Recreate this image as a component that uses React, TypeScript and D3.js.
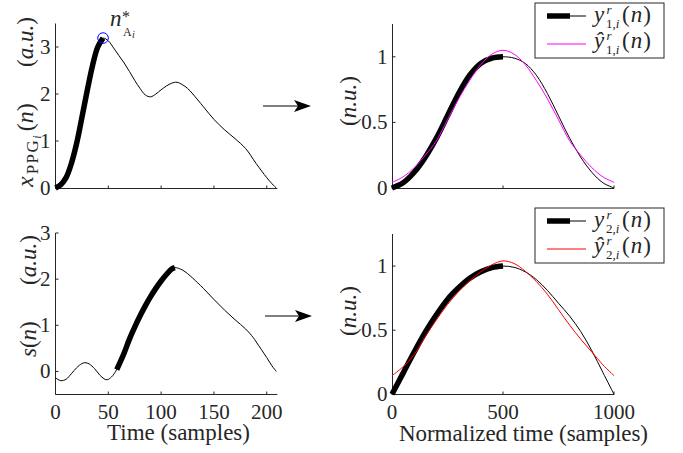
import React from "react";
import * as d3 from "d3";

// ---- values

// top left: PPG pulse (samples, a.u.)
const ppgN = [0, 5, 10, 15, 20, 25, 30, 35, 40, 45, 50, 55, 60, 65, 70, 75, 80, 85, 90, 95, 100, 105, 110, 115, 120, 125, 130, 140, 150, 160, 170, 180, 190, 200, 205, 209];
const ppgV = [0, 0.07, 0.22, 0.52, 0.95, 1.5, 2.07, 2.6, 3.0, 3.19, 3.13, 2.98, 2.82, 2.66, 2.48, 2.29, 2.12, 1.98, 1.94, 2.0, 2.09, 2.17, 2.23, 2.25, 2.2, 2.12, 2.0, 1.73, 1.46, 1.24, 1.05, 0.84, 0.52, 0.22, 0.09, 0];
const ppgThick = [0, 45];
const peakN = 45;
const peakV = 3.19;

// bottom left: s(n)
const sN = [0, 5, 10, 15, 20, 25, 28, 32, 37, 42, 46, 49, 53, 58, 65, 70, 75, 80, 85, 90, 95, 100, 105, 110, 113, 120, 125, 130, 140, 150, 160, 170, 180, 187, 190, 200, 205, 209];
const sV = [-0.14, -0.2, -0.17, -0.05, 0.08, 0.17, 0.19, 0.16, 0.06, -0.08, -0.16, -0.18, -0.12, 0.04, 0.4, 0.7, 0.96, 1.2, 1.42, 1.62, 1.8, 1.96, 2.1, 2.22, 2.25, 2.2, 2.12, 2.02, 1.8, 1.56, 1.33, 1.12, 0.92, 0.74, 0.64, 0.3, 0.12, 0];
const sThick = [58, 113];

// right: normalized segments and their fits
const normN = [0, 50, 100, 150, 200, 250, 300, 350, 400, 450, 500, 550, 600, 650, 700, 750, 800, 850, 900, 950, 1000];
const y1 = [0, 0.04, 0.12, 0.235, 0.38, 0.55, 0.72, 0.86, 0.95, 0.99, 1.0, 0.99, 0.95, 0.86, 0.72, 0.55, 0.38, 0.235, 0.12, 0.04, 0];
const y1hat = [0.043, 0.085, 0.155, 0.25, 0.36, 0.52, 0.68, 0.82, 0.94, 1.02, 1.05, 1.02, 0.94, 0.82, 0.68, 0.52, 0.36, 0.25, 0.155, 0.085, 0.043];
const y2 = [0, 0.165, 0.33, 0.485, 0.62, 0.74, 0.83, 0.905, 0.955, 0.988, 1.0, 0.99, 0.955, 0.895, 0.81, 0.71, 0.61, 0.49, 0.34, 0.17, 0];
const y2hat = [0.145, 0.215, 0.31, 0.45, 0.58, 0.7, 0.8, 0.885, 0.955, 1.01, 1.04, 1.02, 0.96, 0.88, 0.78, 0.66, 0.54, 0.43, 0.33, 0.23, 0.145];
const normThick = [0, 500];

const leftTicksX = [0, 50, 100, 150, 200];
const leftTicksY = [0, 1, 2, 3];
const rightTicksX = [0, 500, 1000];
const rightTicksY = [0, 0.5, 1];

const AX = "#262626";
const FAM = "Liberation Serif";
const LBL = 23; // label font size

type Piece = { t: string; it?: boolean; size?: number; x?: number; y?: number; dx?: number; dy?: number; ls?: number };

// a bit of math text as tspans of one <text>
const MathText = ({ x, y, pieces, rot = 0 }: { x: number; y: number; pieces: Piece[]; rot?: number }) => (
  <text transform={`translate(${x},${y}) rotate(${rot})`} fill={AX} fontFamily={FAM} style={{ fontFamily: `'${FAM}'` }}>
    {pieces.map((p, i) => (
      <tspan
        key={i}
        x={p.x}
        y={p.y}
        fontSize={p.size || LBL}
        fontStyle={p.it ? "italic" : "normal"}
        dx={p.dx}
        dy={p.dy}
        letterSpacing={p.ls}
      >
        {p.t}
      </tspan>
    ))}
  </text>
);

// ----- panels in pixels
const panels = {
  tl: { x: [55.5, 277.3], y: [188, 23.5], xd: [0, 210], yd: [0, 3.5] },
  bl: { x: [55.5, 277.3], y: [394.5, 233], xd: [0, 210], yd: [-0.5, 3] },
  tr: { x: [392, 614], y: [188, 24], xd: [0, 1000], yd: [0, 1.25] },
  br: { x: [392, 614], y: [394.3, 234], xd: [0, 1000], yd: [0, 1.25] }
};

const scales = {};
Object.keys(panels).forEach(k => {
  const p = panels[k];
  scales[k] = {
    x: d3.scaleLinear().domain(p.xd).range(p.x),
    y: d3.scaleLinear().domain(p.yd).range(p.y)
  };
});

const crisp = v => Math.round(v - 0.5) + 0.5;

const Axes = ({ k, xt, yt, showX }) => {
  const { x, y } = scales[k];
  const p = panels[k];
  const x0 = crisp(p.x[0]);
  const yb = crisp(p.y[0]);
  return (
    <g>
      <g stroke={AX} fill="none" strokeWidth={1}>
        <line x1={x0} x2={p.x[1]} y1={yb} y2={yb} />
        <line x1={x0} x2={x0} y1={yb} y2={p.y[1]} />
        {xt.map(t => (
          <line key={"x" + t} x1={x(t)} x2={x(t)} y1={yb} y2={yb - 3} />
        ))}
        {yt.map(t => (
          <line key={"y" + t} x1={x0} x2={x0 + 3} y1={y(t)} y2={y(t)} />
        ))}
      </g>
      {showX &&
        xt.map(t => (
          <text key={"xl" + t} x={x(t)} y={yb + 24} textAnchor="middle" fontSize={21} fill={AX} fontFamily={FAM} style={{ fontFamily: `'${FAM}'` }}>
            {String(t)}
          </text>
        ))}
      {yt.map(t => (
        <text key={"yl" + t} x={x0 - 5} y={y(t) + 7} textAnchor="end" fontSize={21} fill={AX} fontFamily={FAM} style={{ fontFamily: `'${FAM}'` }}>
          {String(t)}
        </text>
      ))}
    </g>
  );
};

const zip = (a, b) => a.map((v, i) => [v, b[i]]);
const between = (pts, r) => pts.filter(d => d[0] >= r[0] && d[0] <= r[1]);

const lineFor = k =>
  d3
    .line()
    .x(d => scales[k].x(d[0]))
    .y(d => scales[k].y(d[1]))
    .curve(d3.curveCatmullRom.alpha(0.5));

const Curve = ({ k, pts, color = "#000", w = 1 }) => (
  <path d={lineFor(k)(pts)} fill="none" stroke={color} strokeWidth={w} strokeLinejoin="round" />
);

const Arrow = ({ x0, x1, y }) => (
  <g>
    <line x1={x0} x2={x1 - 10} y1={y} y2={y} stroke="#000" strokeWidth={1} />
    <path d={`M${x1},${y}L${x1 - 17},${y - 6}L${x1 - 13},${y}L${x1 - 17},${y + 6}Z`} fill="#000" />
  </g>
);

const unit = (u: string): Piece[] => [{ t: "(" }, { t: u, it: true }, { t: ")" }];

const Legend = ({ top, num, color }) => (
  <g transform={`translate(535,${top})`}>
    <rect width={129} height={55} fill="#fff" stroke={AX} strokeWidth={1} />
    <line x1={12} x2={35} y1={13} y2={13} stroke="#000" strokeWidth={5.5} />
    <line x1={35} x2={51} y1={13} y2={13} stroke="#000" strokeWidth={1} />
    <line x1={12} x2={51} y1={41} y2={41} stroke={color} strokeWidth={1} />
    {[
      ["y", 19],
      ["\u0177", 45]
    ].map(([ch, b]) => {
      const base = b as number;
      return (
        <MathText
          key={ch as string}
          x={0}
          y={0}
          pieces={[
            { t: ch as string, it: true, x: 59, y: base },
            { t: "r", it: true, size: 13, x: 71.5, y: base - 8 },
            { t: num + ",", size: 13, x: 71, y: base + 6 },
            { t: "i", it: true, size: 13 },
            { t: "(", x: 87, y: base, ls: 1 },
            { t: "n", it: true, ls: 1 },
            { t: ")" }
          ]}
        />
      );
    })}
  </g>
);

const App = () => {
  const ppg = zip(ppgN, ppgV);
  const sig = zip(sN, sV);
  const r1 = zip(normN, y1);
  const r1h = zip(normN, y1hat);
  const r2 = zip(normN, y2);
  const r2h = zip(normN, y2hat);

  return (
    <svg width={683} height={453} fontFamily={FAM} style={{ position: "absolute", left: 0, top: 0, fontFamily: `'${FAM}'` }}>
      <Axes k="tl" xt={leftTicksX} yt={leftTicksY} showX={false} />
      <Axes k="bl" xt={leftTicksX} yt={leftTicksY} showX={true} />
      <Axes k="tr" xt={rightTicksX} yt={rightTicksY} showX={false} />
      <Axes k="br" xt={rightTicksX} yt={rightTicksY} showX={true} />

      <Curve k="tl" pts={ppg} />
      <Curve k="tl" pts={between(ppg, ppgThick)} w={5.5} />
      <circle cx={scales["tl"].x(peakN)} cy={scales["tl"].y(peakV)} r={5.3} fill="none" stroke="#0000ff" strokeWidth={1} />

      <Curve k="bl" pts={sig} />
      <Curve k="bl" pts={between(sig, sThick)} w={5.5} />

      <Curve k="tr" pts={r1} />
      <Curve k="tr" pts={between(r1, normThick)} w={5.5} />
      <Curve k="tr" pts={r1h} color="#ff00ff" />

      <Curve k="br" pts={r2} />
      <Curve k="br" pts={between(r2, normThick)} w={5.5} />
      <Curve k="br" pts={r2h} color="#ff0000" />

      {/* peak label */}
      <MathText
        x={0}
        y={0}
        pieces={[
          { t: "n", it: true, x: 110, y: 26 },
          { t: "*", size: 16, x: 122, y: 22 },
          { t: "A", size: 12, x: 123, y: 36 },
          { t: "i", it: true, size: 10, x: 132, y: 38 }
        ]}
      />

      {/* y labels */}
      <MathText
        x={33}
        y={187}
        rot={-90}
        pieces={[
          { t: "x", it: true, size: 24, dx: 0 },
          { t: "PPG", size: 17, dx: 2, dy: 5, ls: 1.5 },
          { t: "i", it: true, size: 12, dx: 0, dy: 3 },
          { t: "(", size: 24, dx: 4, dy: -8 },
          { t: "n", it: true, size: 24 },
          { t: ")", size: 24 }
        ]}
      />
      <MathText x={33} y={67} rot={-90} pieces={unit("a.u.")} />

      <MathText x={36} y={357} rot={-90} pieces={[{ t: "s", it: true }, { t: "(" }, { t: "n", it: true }, { t: ")" }]} />
      <MathText x={36} y={285} rot={-90} pieces={unit("a.u.")} />

      <MathText x={356} y={126} rot={-90} pieces={unit("n.u.")} />
      <MathText x={356} y={336} rot={-90} pieces={unit("n.u.")} />

      {/* x labels */}
      <text x={107} y={440} fontSize={LBL} fill={AX} textLength={143} fontFamily={FAM} style={{ fontFamily: `'${FAM}'` }}>
        Time (samples)
      </text>
      <text x={399} y={441} fontSize={LBL} fill={AX} textLength={249} fontFamily={FAM} style={{ fontFamily: `'${FAM}'` }}>
        Normalized time (samples)
      </text>

      <Arrow x0={263} x1={311} y={106} />
      <Arrow x0={265} x1={312} y={316} />

      <Legend top={3} num="1" color="#ff00ff" />
      <Legend top={208} num="2" color="#ff0000" />
    </svg>
  );
};

export default App;
